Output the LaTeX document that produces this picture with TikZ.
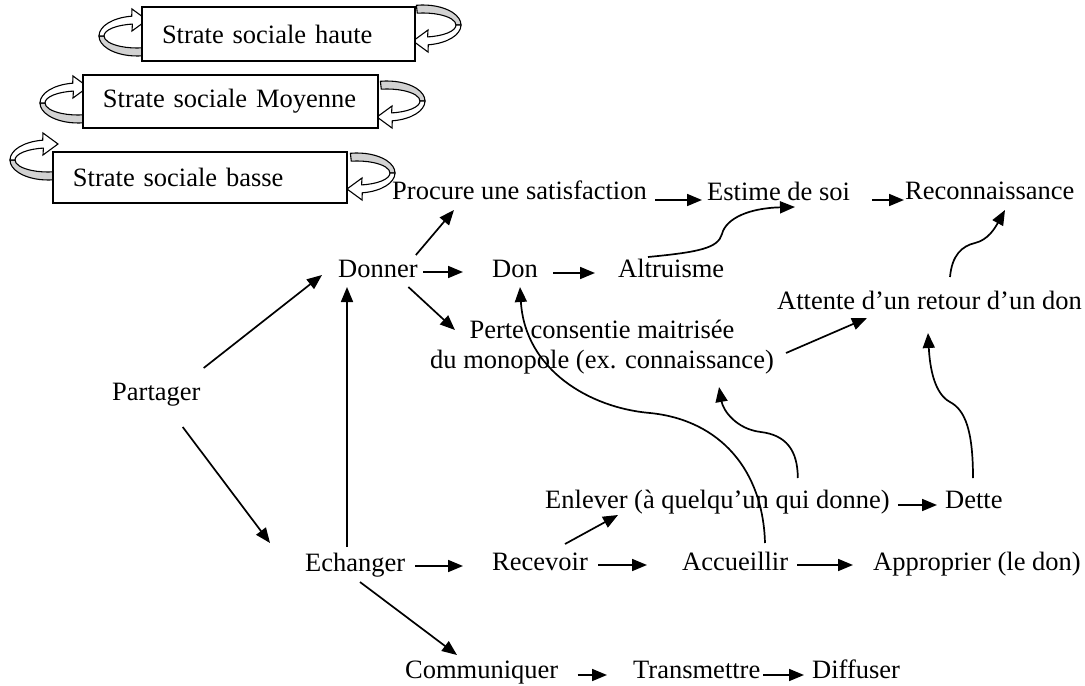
\documentclass[tikz,border=0pt]{standalone}
\usepackage{fontspec}
\setmainfont{Liberation Serif}
\usepackage{tikz}
\usetikzlibrary{arrows.meta,positioning}

\tikzset{
word/.style={inner sep=0pt, anchor=base west},
arr/.style={line width=1.7bp, -{Triangle[length=15bp,width=12bp]}},
stratebox/.style={draw, line width=1.3bp, fill=white, inner xsep=20bp, inner ysep=0pt, align=left}
}

\newcommand{\strateloop}[3]{%
\begin{scope}[shift={(#1,#2)}, rotate=#3, line width=1.1bp]
\filldraw[fill=gray!35] (80:38 and 20) arc[start angle=80, end angle=180, x radius=38, y radius=20]
  -- (180:33 and 12) arc[start angle=180, end angle=80, x radius=33, y radius=12] -- cycle;
\filldraw[fill=white] (180:38 and 20) arc[start angle=180, end angle=262, x radius=38, y radius=20]
  -- (-5,-27) -- (10,-16) -- (-5,-5) -- (262:33 and 12)
  arc[start angle=262, end angle=180, x radius=33, y radius=12] -- cycle;
\end{scope}}

\begin{document}
\begin{tikzpicture}[x=1bp, y=-1bp, font=\fontsize{26.5bp}{30bp}\selectfont]
\useasboundingbox (0,0) rectangle (1085,686);

\foreach \lx/\ly/\rx/\ry in {137/36/423/25, 78/103/387/101, 48/160/357/173}
{
\strateloop{\lx}{\ly}{0}
\strateloop{\rx}{\ry}{180}
}

\node[stratebox, minimum width=273bp, minimum height=54bp, text width=233bp] (haute) at (278.5,34) {Strate sociale haute};
\node[stratebox, minimum width=295bp, minimum height=53bp, text width=255bp] (moyenne) at (230.5,101.5) {Strate sociale Moyenne};
\node[stratebox, minimum width=294bp, minimum height=51bp, text width=254bp] (basse) at (200,177.5) {Strate sociale basse};

\node[word] (procure) at (392,200) {Procure une satisfaction};
\node[word] (estime) at (707,201) {Estime de soi};
\node[word] (reconn) at (905,200) {Reconnaissance};
\node[word] (donner) at (338,277) {Donner};
\node[word] (don) at (492,277) {Don};
\node[word] (altru) at (618,277) {Altruisme};
\node[word] (attente) at (777,309) {Attente d’un retour d’un don};
\node[inner sep=0pt, align=center] (perte) at (602,347) {Perte consentie maitrisée\\du monopole (ex. connaissance)};
\node[word] (partager) at (112,400) {Partager};
\node[word] (enlever) at (545,508) {Enlever (à quelqu’un qui donne)};
\node[word] (dette) at (945,508) {Dette};
\node[word] (echanger) at (305,571) {Echanger};
\node[word] (recevoir) at (492,570) {Recevoir};
\node[word] (accueil) at (682,570) {Accueillir};
\node[word] (appro) at (873,570) {Approprier (le don)};
\node[word] (commun) at (405,678) {Communiquer};
\node[word] (transm) at (633,678) {Transmettre};
\node[word] (diffuser) at (812,678) {Diffuser};

\draw[arr] ([shift={(3,-32)}]partager.base east) -- ([shift={(-16,-2)}]donner.base west);
\draw[arr] ([shift={(-18,27)}]partager.base east) -- ([shift={(-35,-28)}]echanger.base west);
\draw[arr] ([shift={(42,-24)}]echanger.base west) -- ([shift={(9,10)}]donner.base west);
\draw[arr] ([shift={(-2,-22)}]donner.base east) -- ([shift={(62,10)}]procure.base west);
\draw[arr] ([shift={(5.5,-5)}]donner.base east) -- ([shift={(-29,-5)}]don.base west);
\draw[arr] ([shift={(-9.5,10)}]donner.base east) -- ([shift={(25,-17)}]perte.west);
\draw[arr] ([shift={(15.4,-4)}]don.base east) -- ([shift={(-23,-4)}]altru.base west);
\draw[arr] ([shift={(8.4,0)}]procure.base east) -- ([shift={(-5,-1)}]estime.base west);
\draw[arr] ([shift={(22,-1)}]estime.base east) -- ([shift={(-1,0)}]reconn.base west);
\draw[arr] ([shift={(12,6)}]perte.east) -- ([shift={(90,9)}]attente.base west);
\draw[arr] ([shift={(10,-5)}]echanger.base east) -- ([shift={(-29,-4)}]recevoir.base west);
\draw[arr] ([shift={(10,-5)}]recevoir.base east) -- ([shift={(-35,-5)}]accueil.base west);
\draw[arr] ([shift={(9,-5)}]accueil.base east) -- ([shift={(-20,-5)}]appro.base west);
\draw[arr] ([shift={(73,-26)}]recevoir.base west) -- ([shift={(73,7)}]enlever.base west);
\draw[arr] ([shift={(8,-3)}]enlever.base east) -- ([shift={(-8,-3)}]dette.base west);
\draw[arr] ([shift={(55,11)}]echanger.base west) -- ([shift={(52,-23)}]commun.base west);
\draw[arr] ([shift={(19,-3)}]commun.base east) -- ([shift={(-26,-3)}]transm.base west);
\draw[arr] ([shift={(3,-3)}]transm.base east) -- ([shift={(-8,-3)}]diffuser.base west);

\draw[arr] ([shift={(30,-20)}]altru.base west) .. controls +(52,-5) and +(-4,14) .. ++(74,-23)
  .. controls +(4,-16) and +(-45,1) .. ([shift={(88,6)}]estime.base west);
\draw[arr] ([shift={(173,-32)}]attente.base west) .. controls +(2,-22) and +(-13,3) .. ++(25,-34)
  .. controls +(13,-3) and +(-10,18) .. ([shift={(100,10)}]reconn.base west);
\draw[arr] ([shift={(83,-27)}]accueil.base west) .. controls +(-2,-73) and +(70,7) .. ++(-115,-130)
  .. controls +(-60,-5) and +(5,83) .. ([shift={(28,10)}]don.base west);
\draw[arr] ([shift={(-92,-30)}]enlever.base east) .. controls +(0,-28) and +(25,3) .. ++(-37,-46)
  .. controls +(-25,-3) and +(4,23) .. ([shift={(-55,40)}]perte.east);
\draw[arr] ([shift={(28,-30)}]dette.base west) .. controls +(0,-48) and +(15,8) .. ++(-23,-76)
  .. controls +(-15,-8) and +(2,37) .. ([shift={(151,24)}]attente.base west);
\end{tikzpicture}
\end{document}
